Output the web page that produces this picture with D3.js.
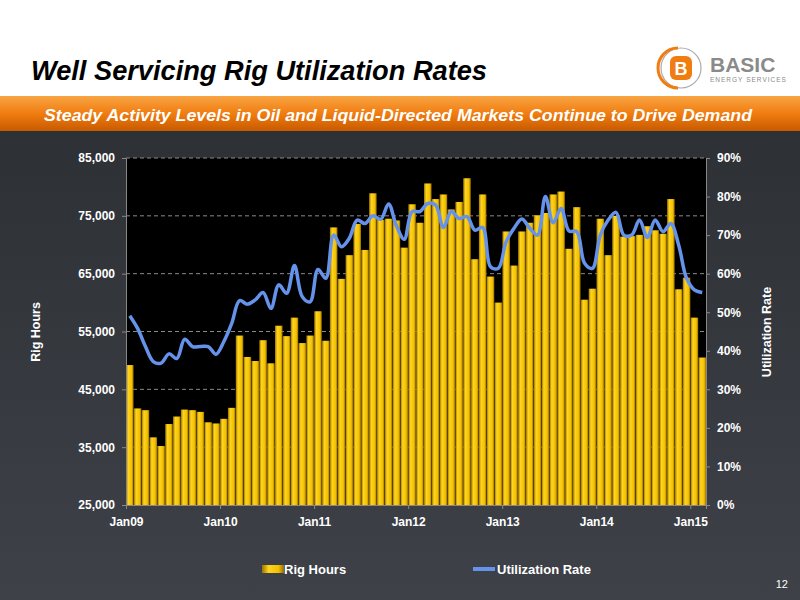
<!DOCTYPE html>
<html><head><meta charset="utf-8">
<script src="https://cdn.jsdelivr.net/npm/d3@7"></script>
<style>body{margin:0;background:#fff}svg{display:block}</style></head>
<body><svg id="c" width="800" height="600"></svg>
<script>
const rigHours=[49200,41700,41400,36700,35200,39000,40300,41500,41400,41100,39300,39100,
39900,41800,54300,50600,49900,53500,49500,56000,54200,57400,53000,54300,
58500,53400,73000,64100,68200,73600,69100,78900,74300,74500,74200,69500,
77000,73800,80600,77900,78700,76100,77400,81500,67500,78700,64500,60000,
72300,66400,72300,73800,75100,75500,78700,79200,69300,76500,60500,62400,
74500,68200,75000,71400,71500,71700,73200,72500,71900,77900,62300,64300,
57400,50500];
const utilization=[49.1,45.8,41.1,37.2,36.8,39.2,38.0,43.0,41.1,41.1,41.1,39.1,
42.4,47.1,53.0,52.1,53.2,55.1,51.0,57.1,54.9,62.1,54.0,52.7,
61.1,58.8,70.0,67.0,69.2,73.9,73.0,75.0,74.1,78.1,72.4,68.9,
76.1,76.1,78.2,77.8,72.0,76.1,74.3,74.8,71.3,72.0,61.8,61.4,
68.3,71.8,74.2,71.8,70.0,80.0,73.2,76.9,71.1,70.9,62.7,61.4,
70.0,73.9,75.9,70.0,70.0,73.9,69.4,73.9,70.9,73.0,67.4,58.8,
55.8,55.1];
const yearLabels=["Jan09","Jan10","Jan11","Jan12","Jan13","Jan14","Jan15"];
const leftTicks=[25000,35000,45000,55000,65000,75000,85000];
const rightTicks=[0,10,20,30,40,50,60,70,80,90];
const months=rigHours.map((d,i)=>i);

const F="Liberation Sans, Arial, sans-serif";
const svg=d3.select("#c");
const defs=svg.append("defs");
function grad(id,horiz,stops){const g=defs.append("linearGradient").attr("id",id).attr("x1",0).attr("y1",0).attr("x2",horiz?1:0).attr("y2",horiz?0:1);
 stops.forEach(s=>g.append("stop").attr("offset",s[0]).attr("stop-color",s[1]));}
grad("band",false,[[0,"#f8a443"],[0.5,"#f07d10"],[1,"#c85a00"]]);
grad("bar",true,[[0,"#9c7400"],[0.3,"#ffd51f"],[0.75,"#f2c000"],[1,"#9a7000"]]);
grad("bg",false,[[0,"#2d3035"],[1,"#3e4147"]]);

svg.append("rect").attr("x",0).attr("y",130).attr("width",800).attr("height",470).attr("fill","url(#bg)");
svg.append("rect").attr("x",0).attr("y",96).attr("width",800).attr("height",35).attr("fill","url(#band)");
svg.append("text").attr("x",31).attr("y",80).text("Well Servicing Rig Utilization Rates")
 .attr("font-family",F).attr("font-weight","bold").attr("font-style","italic").attr("font-size",27).attr("fill","#000")
 .attr("textLength",456).attr("lengthAdjust","spacingAndGlyphs");
svg.append("text").attr("x",44).attr("y",121).text("Steady Activity Levels in Oil and Liquid-Directed Markets Continue to Drive Demand")
 .attr("font-family",F).attr("font-weight","bold").attr("font-style","italic").attr("font-size",17).attr("fill","#fff")
 .attr("textLength",708).attr("lengthAdjust","spacingAndGlyphs");
// logo
const lg=svg.append("g");
lg.append("circle").attr("cx",681).attr("cy",68).attr("r",20).attr("fill","none").attr("stroke","#aaa").attr("stroke-width",1.2);
lg.append("path").attr("d","M678,48 A20,20 0 0,0 678,88").attr("fill","none").attr("stroke","#f07d10").attr("stroke-width",3);
lg.append("rect").attr("x",670).attr("y",56).attr("width",22).attr("height",24).attr("rx",6).attr("fill","#f07d10");
lg.append("text").attr("x",681).attr("y",75).attr("text-anchor","middle").text("B").attr("font-family",F).attr("font-weight","bold").attr("font-size",18).attr("fill","#fff");
lg.append("text").attr("x",710).attr("y",72).text("BASIC").attr("font-family",F).attr("font-weight","bold").attr("font-size",21).attr("fill","#8a8a8a");
lg.append("text").attr("x",710).attr("y",82).text("ENERGY  SERVICES").attr("font-family",F).attr("font-size",6.5).attr("fill","#8a8a8a").attr("letter-spacing",1);

const L=126,R=706,T=158,B=505;
svg.append("rect").attr("x",L).attr("y",T).attr("width",R-L).attr("height",B-T).attr("fill","#000");
const x=d3.scaleBand().domain(months).range([L,R]).padding(0.04).paddingOuter(0);
const yL=d3.scaleLinear().domain([25000,85000]).range([B,T]);
const yR=d3.scaleLinear().domain([0,90]).range([B,T]);

svg.append("g").selectAll("line").data(leftTicks.slice(1)).join("line")
 .attr("x1",L).attr("x2",R).attr("y1",d=>yL(d)).attr("y2",d=>yL(d)).attr("stroke","#8a8a8a").attr("stroke-dasharray","4,3").attr("stroke-width",1);

svg.append("g").selectAll("rect").data(rigHours).join("rect")
 .attr("x",(d,i)=>x(i)).attr("width",x.bandwidth()).attr("y",d=>yL(d)).attr("height",d=>B-yL(d)).attr("fill","url(#bar)");

const line=d3.line().x((d,i)=>x(i)+x.bandwidth()/2).y(d=>yR(d)).curve(d3.curveCatmullRom);
svg.append("path").datum(utilization).attr("d",line).attr("fill","none").attr("stroke","#6592ea").attr("stroke-width",3.5).attr("stroke-linejoin","round");

const ax=svg.append("g").attr("transform",`translate(0,${B})`).call(d3.axisBottom(d3.scaleLinear().domain([0,rigHours.length]).range([L,R])).tickValues([0,12,24,36,48,60,72]).tickFormat((d,i)=>yearLabels[i]).tickSize(4));
const al=svg.append("g").attr("transform",`translate(${L},0)`).call(d3.axisLeft(yL).tickValues(leftTicks).tickFormat(d3.format(",")).tickSize(4));
const ar=svg.append("g").attr("transform",`translate(${R},0)`).call(d3.axisRight(yR).tickValues(rightTicks).tickFormat(d=>d+"%").tickSize(4));
[ax,al,ar].forEach(a=>{a.selectAll("path,line").attr("stroke","#888");a.selectAll("text").attr("fill","#fff").attr("font-family",F).attr("font-weight","bold").attr("font-size",12);});
ax.selectAll("text").attr("dy","1.2em");
al.selectAll("text").attr("dx","-4");
ar.selectAll("text").attr("dx","4");

svg.append("text").attr("transform","translate(40,332) rotate(-90)").attr("text-anchor","middle").text("Rig Hours").attr("font-family",F).attr("font-weight","bold").attr("font-size",12.5).attr("fill","#fff");
svg.append("text").attr("transform","translate(771,332) rotate(-90)").attr("text-anchor","middle").text("Utilization Rate").attr("font-family",F).attr("font-weight","bold").attr("font-size",12.5).attr("fill","#fff");

svg.append("rect").attr("x",262).attr("y",565).attr("width",22).attr("height",8).attr("fill","url(#bar)");
svg.append("text").attr("x",284).attr("y",574).text("Rig Hours").attr("font-family",F).attr("font-weight","bold").attr("font-size",13).attr("fill","#fff");
svg.append("line").attr("x1",473).attr("x2",495).attr("y1",569).attr("y2",569).attr("stroke","#6592ea").attr("stroke-width",4);
svg.append("text").attr("x",497).attr("y",574).text("Utilization Rate").attr("font-family",F).attr("font-weight","bold").attr("font-size",13).attr("fill","#fff");
svg.append("text").attr("x",788).attr("y",588).attr("text-anchor","end").text("12").attr("font-family",F).attr("font-size",11).attr("fill","#fff");
</script></body></html>
